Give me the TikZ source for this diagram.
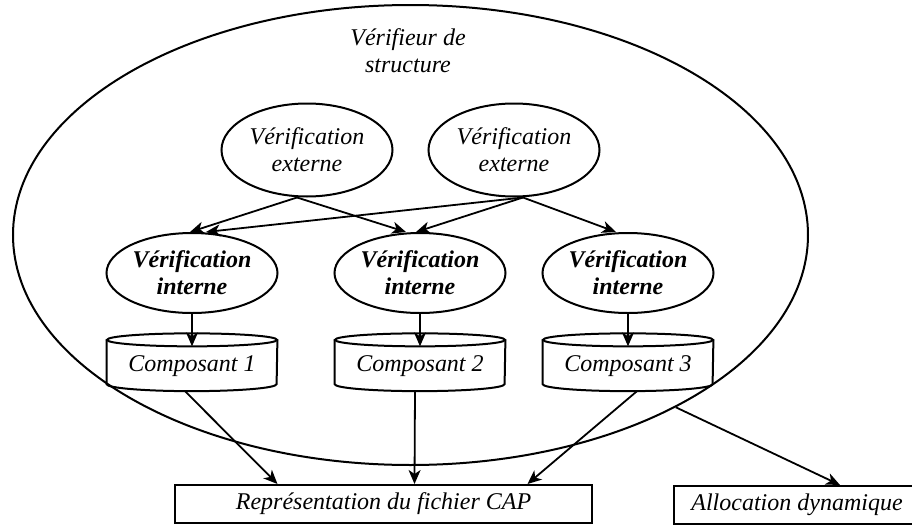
\documentclass[tikz,border=0pt]{standalone}
\usepackage{fontspec}
\setmainfont{Liberation Serif}
\usetikzlibrary{shapes.geometric, arrows.meta}

\begin{document}
\begin{tikzpicture}[
  x=0.5pt, y=-0.5pt,
  every node/.style={font=\fontsize{12}{13.5}\selectfont\itshape, align=center, inner sep=0pt},
  bulle/.style={ellipse, draw, line width=1pt, minimum width=85.5pt, minimum height=46.5pt},
  interne/.style={bulle, minimum height=40pt, font=\fontsize{12}{13.5}\selectfont\bfseries\itshape},
  compo/.style={rectangle, minimum width=85pt, minimum height=21.75pt, text height=9.5pt, text depth=0pt},
  boite/.style={rectangle, draw, line width=1pt, minimum height=19pt},
  fleche/.style={-{Stealth[length=7pt, width=6pt, inset=2pt]}, line width=0.9pt}
]
  \useasboundingbox (0,0) rectangle (912,525);

  % Vérifieur de structure (grande ellipse)
  \node[ellipse, draw, line width=1pt, minimum width=397.5pt, minimum height=230pt] (verif) at (410.5,235) {};
  \node (titre) at (408,51) {Vérifieur de\\ structure};

  % Vérifications externes
  \node[bulle] (ext1) at (307,150) {Vérification\\ externe};
  \node[bulle] (ext2) at (514,150) {Vérification\\ externe};

  % Vérifications internes
  \node[interne] (int1) at (192,273) {Vérification\\ interne};
  \node[interne] (int2) at (420,273) {Vérification\\ interne};
  \node[interne] (int3) at (628,273) {Vérification\\ interne};

  % Composants (cylindres)
  \node[compo] (c1) at (192,362) {Composant 1};
  \node[compo] (c2) at (420,362) {Composant 2};
  \node[compo] (c3) at (628,362) {Composant 3};
  \foreach \c in {c1,c2,c3} {
    \draw[line width=1pt] (\c.north west) -- (\c.south west)
      arc[start angle=180, end angle=360, x radius=42.5pt, y radius=3.5pt] -- (\c.north east);
    \draw[line width=1pt] (\c.north) ellipse [x radius=42.5pt, y radius=3.25pt];
  }

  % Boîtes du bas
  \node[boite, minimum width=208.5pt] (cap) at (383.5,504) {Représentation du fichier CAP};
  \node[boite, minimum width=123pt] (alloc) at (797,505) {Allocation dynamique};

  % Externes -> internes
  \draw[fleche] ([xshift=-5pt]ext1.south) -- ([xshift=-1pt]int1.north);
  \draw[fleche] ([xshift=-5pt]ext1.south) -- ([xshift=-7pt]int2.north);
  \draw[fleche] ([xshift=4.5pt]ext2.south) -- ([xshift=7pt]int1.north);
  \draw[fleche] ([xshift=4.5pt]ext2.south) -- ([xshift=-2pt]int2.north);
  \draw[fleche] ([xshift=4.5pt]ext2.south) -- ([xshift=-6pt]int3.north);

  % Internes -> composants
  \foreach \i in {1,2,3}
    \draw[fleche] (int\i.south) -- ([yshift=-3.25pt]c\i.north);

  % Composants -> fichier CAP
  \draw[fleche] ([xshift=-3.5pt, yshift=-3.5pt]c1.south) -- ([xshift=-53pt]cap.north);
  \draw[fleche] ([xshift=-2.5pt, yshift=-3.5pt]c2.south) -- ([xshift=15.5pt]cap.north);
  \draw[fleche] ([xshift=4.5pt, yshift=-3.5pt]c3.south) -- ([xshift=72pt]cap.north);

  % Vérifieur -> allocation
  \draw[fleche] (verif.-33) -- ([xshift=21.5pt]alloc.north);

\end{tikzpicture}
\end{document}
